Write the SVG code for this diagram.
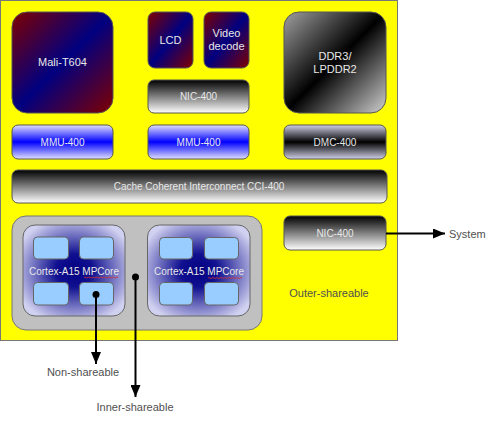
<svg xmlns="http://www.w3.org/2000/svg" width="500" height="421" viewBox="0 0 500 421">
<defs>
<linearGradient id="gRB" x1="0" y1="0" x2="1" y2="1"><stop offset="0" stop-color="#800000"/><stop offset="0.5" stop-color="#000080"/><stop offset="1" stop-color="#800000"/></linearGradient>
<linearGradient id="gDDR" x1="0" y1="0" x2="1" y2="1"><stop offset="0" stop-color="#a0a0a0"/><stop offset="0.5" stop-color="#000000"/><stop offset="1" stop-color="#d0d0d0"/></linearGradient>
<linearGradient id="gBW" x1="0" y1="0" x2="0" y2="1"><stop offset="0" stop-color="#000000"/><stop offset="1" stop-color="#ffffff"/></linearGradient>
<linearGradient id="gMMU" x1="0" y1="0" x2="0" y2="1"><stop offset="0" stop-color="#e0e0ff"/><stop offset="0.5" stop-color="#0000ff"/><stop offset="1" stop-color="#e0e0ff"/></linearGradient>
<linearGradient id="gDMC" x1="0" y1="0" x2="0" y2="1"><stop offset="0" stop-color="#d0d0e8"/><stop offset="0.5" stop-color="#000000"/><stop offset="1" stop-color="#d0d0e8"/></linearGradient>
<radialGradient id="gCl" cx="0.5" cy="0.5" r="0.6"><stop offset="0" stop-color="#000080"/><stop offset="0.3" stop-color="#101090"/><stop offset="1" stop-color="#d0d0f0"/></radialGradient>
<marker id="arr" markerWidth="12" markerHeight="10" refX="12" refY="5" orient="auto" markerUnits="userSpaceOnUse"><path d="M0,0 L12,5 L0,10 Z" fill="#000"/></marker>
</defs>
<style>
.blk{stroke:#555;stroke-width:1}
.t{font-family:"Liberation Sans",Arial,sans-serif;fill:#e8e8e8;text-anchor:middle}
.s11{font-size:11px}
.s10{font-size:10px}
.lbl{font-family:"Liberation Sans",Arial,sans-serif;font-size:11px;fill:#505050}
.core{fill:#99ccff;stroke:#666;stroke-width:1}
.cl{fill:url(#gCl);stroke:#666;stroke-width:1}
.wire{stroke:#000;stroke-width:2;fill:none}
</style>
<rect id="soc" x="0.5" y="0.5" width="397" height="340" fill="#ffff00" stroke="#777" stroke-width="1"/>
<g id="mali"><rect class="blk" x="12" y="12" width="101" height="101" rx="15" fill="url(#gRB)"/><text class="t s11" x="62.5" y="66">Mali-T604</text></g>
<g id="lcd"><rect class="blk" x="148" y="12" width="45" height="56" rx="7" fill="url(#gRB)"/><text class="t s11" x="170.5" y="44">LCD</text></g>
<g id="video"><rect class="blk" x="204" y="12" width="45" height="56" rx="7" fill="url(#gRB)"/><text class="t s11" x="226.5" y="37">Video</text><text class="t s11" x="226.5" y="50">decode</text></g>
<g id="nic-top"><rect class="blk" x="148" y="80" width="101" height="33" rx="6" fill="url(#gBW)"/><text class="t s10" x="198.5" y="100">NIC-400</text></g>
<g id="ddr"><rect class="blk" x="284" y="12" width="102" height="101" rx="15" fill="url(#gDDR)"/><text class="t s11" x="335" y="60">DDR3/</text><text class="t s11" x="335" y="73">LPDDR2</text></g>
<g id="mmu1"><rect class="blk" x="12" y="125" width="101" height="34" rx="6" fill="url(#gMMU)"/><text class="t s10" x="62.5" y="145.5">MMU-400</text></g>
<g id="mmu2"><rect class="blk" x="148" y="125" width="101" height="34" rx="6" fill="url(#gMMU)"/><text class="t s10" x="198.5" y="145.5">MMU-400</text></g>
<g id="dmc"><rect class="blk" x="284" y="125" width="102" height="34" rx="6" fill="url(#gDMC)"/><text class="t s10" x="335" y="145.5">DMC-400</text></g>
<g id="cci"><rect class="blk" x="12" y="170" width="375" height="33" rx="6" fill="url(#gBW)"/><text class="t s10" x="199" y="190">Cache Coherent Interconnect CCI-400</text></g>
<g id="nic-right"><rect class="blk" x="284" y="216" width="102" height="34" rx="6" fill="url(#gBW)"/><text class="t s10" x="335" y="236.5">NIC-400</text></g>
<g id="inner"><rect x="12" y="216" width="250" height="114" rx="14" fill="#c0c0c0" stroke="#777" stroke-width="1"/></g>
<g id="cluster1">
<rect class="cl" x="23" y="225" width="102" height="91" rx="12"/>
<rect class="core" x="33.5" y="237" width="35" height="22" rx="4"/>
<rect class="core" x="79.5" y="237" width="34" height="22" rx="4"/>
<rect class="core" x="33.5" y="282.5" width="35" height="22.5" rx="4"/>
<rect class="core" x="79.5" y="282.5" width="34" height="22.5" rx="4"/>
<text class="t s10" x="74" y="274.5">Cortex-A15 MPCore</text>
<path d="M84,277.5 q1,-1 2,0 t2,0 t2,0 t2,0 t2,0 t2,0 t2,0 t2,0 t2,0 t2,0 t2,0 t2,0 t2,0 t2,0 t2,0 t2,0 t2,0" fill="none" stroke="#d03030" stroke-width="0.8"/>
</g>
<g id="cluster2">
<rect class="cl" x="147.5" y="225" width="102.5" height="91" rx="12"/>
<rect class="core" x="159.5" y="237.5" width="33" height="21.5" rx="4"/>
<rect class="core" x="204.5" y="237.5" width="34" height="21.5" rx="4"/>
<rect class="core" x="159.5" y="282.5" width="33" height="22.5" rx="4"/>
<rect class="core" x="204.5" y="282.5" width="34" height="22.5" rx="4"/>
<text class="t s10" x="199" y="275">Cortex-A15 MPCore</text>
<path d="M208,278 q1,-1 2,0 t2,0 t2,0 t2,0 t2,0 t2,0 t2,0 t2,0 t2,0 t2,0 t2,0 t2,0 t2,0 t2,0 t2,0 t2,0 t2,0" fill="none" stroke="#d03030" stroke-width="0.8"/>
</g>
<text id="outer-label" class="lbl" x="329" y="296.5" text-anchor="middle">Outer-shareable</text>
<g id="connectors">
<line class="wire" x1="386" y1="233.5" x2="445" y2="233.5" marker-end="url(#arr)"/>
<circle cx="96" cy="294.5" r="3.5" fill="#000"/>
<line class="wire" x1="96" y1="294.5" x2="96" y2="364" marker-end="url(#arr)"/>
<circle cx="135.5" cy="277" r="3.5" fill="#000"/>
<line class="wire" x1="135.5" y1="277" x2="135.5" y2="397" marker-end="url(#arr)"/>
</g>
<text class="lbl" x="449" y="237.5">System</text>
<text class="lbl" x="83" y="376" text-anchor="middle">Non-shareable</text>
<text class="lbl" x="135" y="410.5" text-anchor="middle">Inner-shareable</text>
</svg>
